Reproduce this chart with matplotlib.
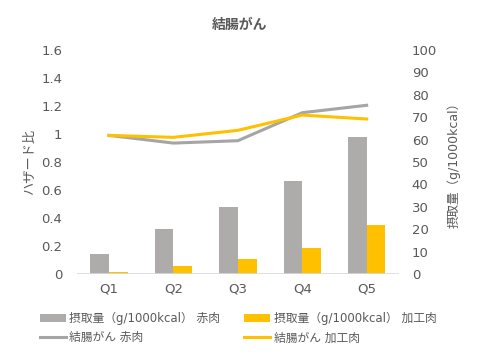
import matplotlib
matplotlib.use("Agg")
import matplotlib.pyplot as plt
import numpy as np

plt.rcParams['font.family'] = ['DejaVu Sans', 'Noto Sans CJK JP']

quintiles = ['Q1', 'Q2', 'Q3', 'Q4', 'Q5']
intake_red = [9, 20, 30, 41.5, 61]
intake_processed = [1, 3.6, 6.7, 11.6, 22]
hr_red = [0.99, 0.935, 0.952, 1.152, 1.205]
hr_processed = [0.99, 0.976, 1.026, 1.135, 1.107]

text_color = '#595959'
gray_bar = '#AEABAB'
gray_line = '#A5A5A5'
yellow = '#FFC000'

fig = plt.figure(figsize=(4.8, 3.57), dpi=100)
ax = fig.add_axes([0.160, 0.2325, 0.671, 0.6275])
ax2 = ax.twinx()

x = np.arange(len(quintiles))
width = 0.29

# bars on the right axis (intake)
b1 = ax2.bar(x - width / 2, intake_red, width, color=gray_bar, zorder=2)
b2 = ax2.bar(x + width / 2, intake_processed, width, color=yellow, zorder=2)
ax2.set_ylim(0, 100)
ax2.set_yticks(range(0, 101, 10))

# lines on the left axis (hazard ratio) - drawn above bars
ax.set_zorder(ax2.get_zorder() + 1)
ax.patch.set_visible(False)
l1, = ax.plot(x, hr_red, color=gray_line, lw=2.2)
l2, = ax.plot(x, hr_processed, color=yellow, lw=2.2)
ax.set_ylim(0, 1.6)
ax.set_yticks([0, 0.2, 0.4, 0.6, 0.8, 1, 1.2, 1.4, 1.6])
ax.set_yticklabels(['0', '0.2', '0.4', '0.6', '0.8', '1', '1.2', '1.4', '1.6'])
ax.set_xlim(-0.5, len(quintiles) - 0.5)
ax.set_xticks(x)
ax.set_xticklabels(quintiles, fontsize=9.5, color=text_color)

for a in (ax, ax2):
    for s in a.spines.values():
        s.set_visible(False)
    a.tick_params(length=0, colors=text_color, labelsize=9.5)
ax.tick_params(axis='y', pad=10.5)
ax2.tick_params(axis='y', pad=9.2)
ax.tick_params(axis='x', pad=6)
ax2.axhline(0, color='#D9D9D9', lw=1.2, zorder=3)

ax.set_ylabel('ハザード比', color=text_color, fontsize=9.5, labelpad=4)
ax2.set_ylabel('摂取量（g/1000kcal）', color=text_color, fontsize=9, labelpad=7)
fig.text(0.5, 0.93, '結腸がん', ha='center', va='center', fontsize=10,
         fontweight='bold', color=text_color)

handles = [b1, l1, b2, l2]
labels = ['摂取量（g/1000kcal） 赤肉', '結腸がん 赤肉',
          '摂取量（g/1000kcal） 加工肉', '結腸がん 加工肉']
fig.legend(handles, labels, ncol=2, loc='upper left', bbox_to_anchor=(0.066, 0.15),
           frameon=False, fontsize=8.5, labelcolor=text_color,
           handlelength=2.2, handletextpad=0.3, columnspacing=2.0,
           labelspacing=0.55, borderpad=0.2)

fig.savefig('out.png', dpi=100)
